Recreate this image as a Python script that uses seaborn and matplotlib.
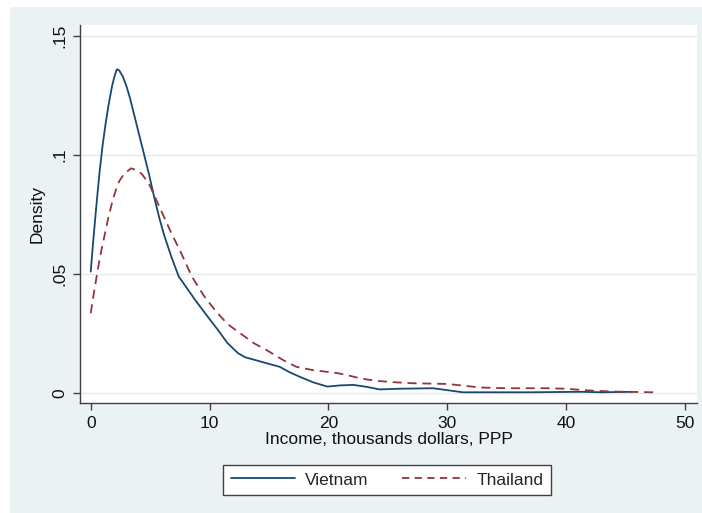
import matplotlib
matplotlib.use("Agg")
import matplotlib.pyplot as plt
import matplotlib.patches as mpatches
import seaborn as sns
import pandas as pd

# ---- data ----
vn_income = [0, 0.25, 0.5, 0.75, 1.0, 1.25, 1.5, 1.8, 2.0, 2.2, 2.4, 2.7, 3.0,
             3.3, 3.6, 4.0, 4.4, 4.9, 5.4, 5.8, 6.2, 6.8, 7.4, 8.1, 8.8, 9.7,
             10.7, 11.5, 12.4, 13.0, 13.8, 14.8, 15.9, 16.7, 17.5, 18.7, 19.9,
             21.0, 22.1, 23.2, 24.3, 26.0, 28.8, 30.0, 31.3, 34.0, 37.0, 39.0,
             41.2, 43.0, 45.5]
vn_density = [0.051, 0.066, 0.080, 0.093, 0.104, 0.113, 0.121, 0.129, 0.133,
              0.136, 0.1355, 0.133, 0.129, 0.124, 0.118, 0.110, 0.102, 0.092,
              0.081, 0.073, 0.066, 0.057, 0.049, 0.044, 0.039, 0.033, 0.0265,
              0.021, 0.0167, 0.015, 0.0139, 0.0125, 0.011, 0.0088, 0.007,
              0.0045, 0.0027, 0.0032, 0.0034, 0.0026, 0.0015, 0.0018, 0.002,
              0.0012, 0.0003, 0.0003, 0.0003, 0.0004, 0.0005, 0.0003, 0.0005]
th_income = [0, 0.3, 0.6, 0.9, 1.2, 1.5, 1.8, 2.1, 2.4, 2.8, 3.4, 3.9, 4.3,
             4.9, 5.8, 6.8, 7.5, 8.5, 9.5, 10.5, 11.5, 12.6, 13.7, 14.8, 16.3,
             17.3, 18.7, 20.7, 21.5, 22.3, 23.2, 24.3, 25.6, 27.1, 30.0, 31.5,
             32.8, 35.0, 38.4, 40.0, 41.2, 42.5, 44.0, 47.3]
th_density = [0.0335, 0.043, 0.052, 0.060, 0.067, 0.074, 0.080, 0.085, 0.089,
              0.092, 0.0944, 0.0935, 0.092, 0.088, 0.078, 0.067, 0.060, 0.049,
              0.041, 0.0345, 0.029, 0.025, 0.021, 0.018, 0.0135, 0.011, 0.0096,
              0.0084, 0.0076, 0.0066, 0.0057, 0.005, 0.0045, 0.0041, 0.0038,
              0.003, 0.0023, 0.002, 0.002, 0.0018, 0.0013, 0.0009, 0.0006,
              0.0003]
series_names = ["Vietnam", "Thailand"]
x_ticks = [0, 10, 20, 30, 40, 50]
y_ticks = [0, 0.05, 0.10, 0.15]
y_tick_labels = ["0", ".05", ".1", ".15"]

vn = pd.DataFrame({"x": vn_income, "y": vn_density})
th = pd.DataFrame({"x": th_income, "y": th_density})

sns.set_style("ticks")
plt.rcParams["font.family"] = ["Liberation Sans", "DejaVu Sans"]

BG = "#eaf2f3"
NAVY = "#1a476f"
MAROON = "#90353b"
AXC = "#404040"

W, H = 702, 513
fig = plt.figure(figsize=(W / 100, H / 100), dpi=100)
fig.patch.set_facecolor("white")
fig.patches.append(mpatches.Rectangle((10 / W, 0), 1 - 10 / W, 1 - 7 / H,
                                      transform=fig.transFigure,
                                      facecolor=BG, edgecolor="none", zorder=-10))

ax = fig.add_axes([80 / W, 1 - 403 / H, 617 / W, 378 / H])
ax.set_facecolor("white")

for yt in y_ticks:
    ax.axhline(yt, color="#e3eaec", lw=1.0, zorder=0)

sns.lineplot(data=vn, x="x", y="y", ax=ax, color=NAVY, lw=1.3,
             label=series_names[0], sort=False)
sns.lineplot(data=th, x="x", y="y", ax=ax, color=MAROON, lw=1.3,
             label=series_names[1], sort=False, dashes=False)
ax.lines[-1].set_dashes((5, 3.2))
for ln in ax.lines:
    ln.set_solid_joinstyle("round")
    ln.set_dash_joinstyle("round")

ax.set_xlim(-0.9, 51.0)
ax.set_ylim(-0.0042, 0.1546)
ax.set_xticks(x_ticks)
ax.set_yticks(y_ticks)
ax.set_yticklabels(y_tick_labels, rotation=90, va="center")
ax.tick_params(axis="both", direction="out", length=5, width=1, color=AXC,
               labelsize=12.5, labelcolor="#111111", pad=4)

for s in ["top", "right"]:
    ax.spines[s].set_visible(False)
for s in ["left", "bottom"]:
    ax.spines[s].set_color(AXC)
    ax.spines[s].set_linewidth(1.0)

ax.set_xlabel("Income, thousands dollars, PPP", fontsize=12.5, color="#111111",
              labelpad=1)
ax.set_ylabel("Density", fontsize=12.5, color="#111111", labelpad=6)

ax.get_legend().remove()
handles, labels = ax.get_legend_handles_labels()
leg = fig.legend(handles, labels, loc="center", ncol=2,
                 bbox_to_anchor=(387 / W, 1 - 480 / H),
                 fontsize=12.5, frameon=True, fancybox=False,
                 edgecolor=AXC, facecolor="white", framealpha=1,
                 handlelength=3.7, handletextpad=0.6, columnspacing=1.9,
                 borderpad=0.45, borderaxespad=0)
leg.get_frame().set_linewidth(1.0)
leg.get_lines()[1].set_dashes((4, 3))

fig.savefig("out.png", dpi=100)
